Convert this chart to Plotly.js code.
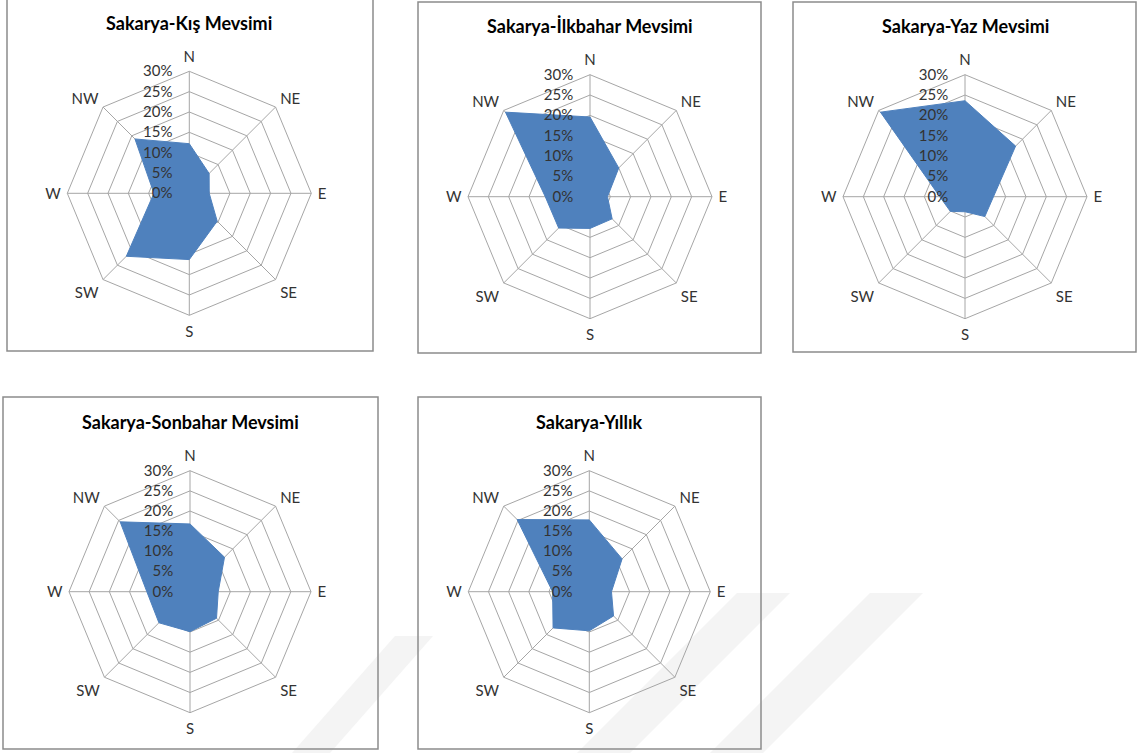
<!DOCTYPE html>
<html>
<head>
<meta charset="utf-8">
<script src="https://cdn.plot.ly/plotly-3.0.1.min.js"></script>
<style>
  html, body { margin: 0; padding: 0; background: #ffffff; }
  #chart { width: 1137px; height: 753px; }
</style>
</head>
<body>
<div id="chart"></div>
<script>
// Wind directions (compass points) shared by every rose
const directions = ['N', 'NE', 'E', 'SE', 'S', 'SW', 'W', 'NW'];

// Wind direction frequencies (fraction of observations) per period
const kis      = [0.122, 0.069, 0.049, 0.097, 0.163, 0.219, 0.087, 0.189];
const ilkbahar = [0.196, 0.100, 0.043, 0.077, 0.078, 0.109, 0.110, 0.294];
const yaz      = [0.236, 0.176, 0.070, 0.069, 0.037, 0.051, 0.062, 0.294];
const sonbahar = [0.168, 0.121, 0.070, 0.093, 0.099, 0.109, 0.107, 0.245];
const yillik   = [0.178, 0.115, 0.055, 0.085, 0.097, 0.127, 0.091, 0.253];

const titles = [
  'Sakarya-Kış Mevsimi',
  'Sakarya-İlkbahar Mevsimi',
  'Sakarya-Yaz Mevsimi',
  'Sakarya-Sonbahar Mevsimi',
  'Sakarya-Yıllık'
];
const series = [kis, ilkbahar, yaz, sonbahar, yillik];

// Page geometry (pixels)
const W = 1137, H = 753;
// Centre and outer radius of each rose
const roses = [
  { cx: 189.3, cy: 193.3, R: 122, ty: 23.5 },
  { cx: 590.0, cy: 196.7, R: 122, ty: 26.5 },
  { cx: 965.0, cy: 196.7, R: 122, ty: 26.5 },
  { cx: 190.0, cy: 591.7, R: 121, ty: 422.3 },
  { cx: 589.3, cy: 591.7, R: 121, ty: 422.3 }
];
// Frames drawn around each chart: [x0, y0, x1, y1]
const frames = [
  [7, -2, 373, 351],
  [418, 2, 761, 353],
  [793, 2, 1136, 352],
  [3, 397, 378, 749],
  [418, 397, 761, 749]
];

const px = x => x / W;
const py = y => 1 - y / H;

const fillBlue = '#4f81bd';
const gridGrey = '#a6a6a6';
const textCol = '#333333';
const font = 'Lato, "Open Sans", "DejaVu Sans", sans-serif';

const data = [];
const layout = {
  width: W, height: H,
  margin: { l: 0, r: 0, t: 0, b: 0 },
  paper_bgcolor: '#ffffff',
  showlegend: false,
  font: { family: font, size: 15, color: textCol },
  annotations: [],
  shapes: []
};

// faint diagonal watermark bands
const bands = [
  [[870, 593], [923, 593], [763, 753], [710, 753]],
  [[737, 593], [790, 593], [630, 753], [577, 753]],
  [[395, 636], [433, 636], [330, 753], [292, 753]]
];
bands.forEach(b => {
  const path = 'M' + b.map(p => px(p[0]) + ',' + py(p[1])).join(' L') + ' Z';
  layout.shapes.push({
    type: 'path', xref: 'paper', yref: 'paper', path: path,
    fillcolor: '#f4f4f4', line: { width: 0 }, layer: 'below'
  });
});

roses.forEach((g, i) => {
  const key = i === 0 ? 'polar' : 'polar' + (i + 1);
  const vals = series[i];
  data.push({
    type: 'scatterpolar',
    subplot: key,
    r: vals.concat([vals[0]]),
    theta: directions.concat([directions[0]]),
    mode: 'lines',
    fill: 'toself',
    fillcolor: fillBlue,
    line: { color: fillBlue, width: 1 },
    hoverinfo: 'skip'
  });

  layout[key] = {
    domain: {
      x: [px(g.cx - g.R), px(g.cx + g.R)],
      y: [py(g.cy + g.R), py(g.cy - g.R)]
    },
    bgcolor: 'rgba(0,0,0,0)',
    gridshape: 'linear',
    angularaxis: {
      type: 'category',
      categoryarray: directions,
      direction: 'clockwise',
      rotation: 90,
      showline: true,
      linecolor: gridGrey,
      linewidth: 1,
      gridcolor: gridGrey,
      gridwidth: 1,
      ticks: 'outside',
      ticklen: 3,
      tickcolor: 'rgba(0,0,0,0)',
      tickfont: { family: font, size: 15, color: textCol }
    },
    radialaxis: {
      range: [0, 0.3],
      dtick: 0.05,
      tick0: 0,
      tickformat: '.0%',
      angle: 90,
      tickangle: 90,
      side: 'counterclockwise',
      showline: false,
      gridcolor: gridGrey,
      gridwidth: 1,
      ticks: 'outside',
      ticklen: 11,
      tickcolor: 'rgba(0,0,0,0)',
      tickfont: { family: font, size: 15, color: textCol }
    }
  };

  layout.annotations.push({
    xref: 'paper', yref: 'paper',
    x: px(g.cx), y: py(g.ty),
    xanchor: 'center', yanchor: 'middle',
    text: titles[i],
    showarrow: false,
    font: { family: font, size: 18, color: '#000000', weight: 'bold' }
  });
});

frames.forEach(f => {
  layout.shapes.push({
    type: 'rect', xref: 'paper', yref: 'paper',
    x0: px(f[0]), y0: py(f[3]), x1: px(f[2]), y1: py(f[1]),
    line: { color: '#8c8c8c', width: 1.5 },
    fillcolor: 'rgba(0,0,0,0)', layer: 'above'
  });
});

Plotly.newPlot('chart', data, layout, { displayModeBar: false, staticPlot: true });
</script>
</body>
</html>
